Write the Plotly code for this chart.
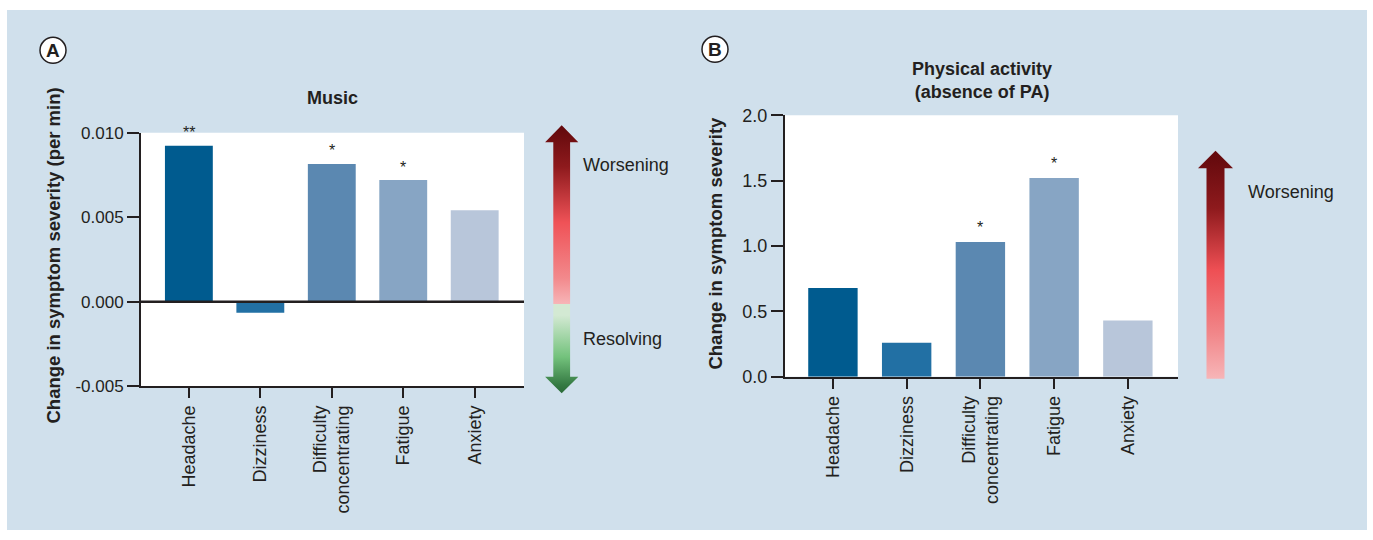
import plotly.graph_objects as go

# ---------------- data ----------------
categories = ["Headache", "Dizziness", "Difficulty<br>concentrating", "Fatigue", "Anxiety"]
music_values = [0.00923, -0.00065, 0.00815, 0.00720, 0.00542]
pa_values = [0.68, 0.26, 1.03, 1.52, 0.43]
music_sig = ["**", "", "*", "*", ""]
pa_sig = ["", "", "*", "*", ""]
bar_colors = ["#005b8f", "#2270a4", "#5b88b1", "#87a5c4", "#b8c6da"]
music_tickvals = [-0.005, 0.0, 0.005, 0.010]
music_ticktext = ["-0.005", "0.000", "0.005", "0.010"]
pa_tickvals = [0.0, 0.5, 1.0, 1.5, 2.0]
pa_ticktext = ["0.0", "0.5", "1.0", "1.5", "2.0"]

# ---------------- layout helpers ----------------
W, H = 1373, 540
INK = "#231f20"
BG = "#d0e0ec"
FONT = "Liberation Sans, Arial, Helvetica, sans-serif"
VS = 560 / 540  # vertical correction for the capture


def fy(y):
    """target picture row -> figure row"""
    return y * VS - 10


def px(x):
    return x / W


def py(y):
    return 1 - fy(y) / H


fig = go.Figure()

fig.add_trace(go.Bar(x=categories, y=music_values, marker_color=bar_colors,
                     marker_line_width=0, width=0.67, xaxis="x", yaxis="y",
                     showlegend=False, hoverinfo="x+y"))
fig.add_trace(go.Bar(x=categories, y=pa_values, marker_color=bar_colors,
                     marker_line_width=0, width=0.67, xaxis="x2", yaxis="y2",
                     showlegend=False, hoverinfo="x+y"))

# ---------------- gradient arrows (pixel overlay axes) ----------------
def arrow_trace(xs, ys, colorscale, start, stop):
    return go.Scatter(x=xs, y=[fy(v) for v in ys], mode="lines", fill="toself",
                      line=dict(width=0), xaxis="x3", yaxis="y3",
                      fillgradient=dict(type="vertical", colorscale=colorscale,
                                        start=fy(start), stop=fy(stop)),
                      showlegend=False, hoverinfo="skip")


# Panel A: red upper half with head
cxA, hwA, swA = 561.7, 16.6, 8.4
fig.add_trace(arrow_trace(
    [cxA, cxA + hwA, cxA + swA, cxA + swA, cxA - swA, cxA - swA, cxA - hwA, cxA],
    [125, 142, 142, 304, 304, 142, 142, 125],
    [[0, "#650a0d"], [0.2, "#8e1a1d"], [0.5, "#ef5257"], [0.8, "#f2898c"], [1, "#f9c8ca"]],
    125, 304))
# Panel A: green lower half with head
fig.add_trace(arrow_trace(
    [cxA - swA, cxA + swA, cxA + swA, cxA + hwA, cxA, cxA - hwA, cxA - swA, cxA - swA],
    [304, 304, 377, 377, 393.5, 377, 377, 304],
    [[0, "#d3e9d3"], [0.45, "#73c27c"], [0.75, "#357a43"], [1, "#1a4f26"]],
    304, 393.5))
# Panel B: red arrow
cxB, hwB, swB = 1215.5, 17.5, 9.0
fig.add_trace(arrow_trace(
    [cxB, cxB + hwB, cxB + swB, cxB + swB, cxB - swB, cxB - swB, cxB - hwB, cxB],
    [150.7, 168, 168, 379, 379, 168, 168, 150.7],
    [[0, "#650a0d"], [0.22, "#8e1a1d"], [0.48, "#ee4f54"], [0.75, "#f1878a"], [1, "#f9c4c6"]],
    150.7, 379))

axis_common = dict(showline=True, linecolor=INK, linewidth=2, ticks="outside",
                   tickcolor=INK, tickwidth=2, showgrid=False, zeroline=False,
                   fixedrange=True)

fig.update_layout(
    width=W, height=H, autosize=False,
    margin=dict(l=0, r=0, t=0, b=0, pad=0),
    paper_bgcolor="white", plot_bgcolor="rgba(0,0,0,0)",
    font=dict(family=FONT, color=INK),
    showlegend=False,
    xaxis=dict(domain=[px(141), px(524)], anchor="y", type="category",
               range=[-0.67, 4.69], ticklen=10, tickangle=-90,
               tickfont=dict(family=FONT, color=INK, size=18), **axis_common),
    yaxis=dict(domain=[py(386.5), py(132.5)], anchor="x",
               range=[-0.005, 0.010], tickvals=music_tickvals,
               ticktext=music_ticktext, ticklen=12,
               tickfont=dict(family=FONT, color=INK, size=17), **axis_common),
    xaxis2=dict(domain=[px(785), px(1178)], anchor="y2", type="category",
                range=[-0.65, 4.68], ticklen=10, tickangle=-90,
                tickfont=dict(family=FONT, color=INK, size=18), **axis_common),
    yaxis2=dict(domain=[py(377), py(115)], anchor="x2",
                range=[0, 2.0], tickvals=pa_tickvals, ticktext=pa_ticktext,
                ticklen=12,
                tickfont=dict(family=FONT, color=INK, size=18), **axis_common),
    xaxis3=dict(domain=[0, 1], anchor="y3", range=[0, W], visible=False,
                fixedrange=True),
    yaxis3=dict(domain=[0, 1], anchor="x3", range=[H, 0], visible=False,
                fixedrange=True),
)

shapes = [
    # light blue panel background
    dict(type="rect", xref="paper", yref="paper", x0=px(7), x1=px(1367),
         y0=0, y1=1, fillcolor=BG, line=dict(width=0), layer="below"),
    # white plot areas
    dict(type="rect", xref="x domain", yref="y domain", x0=0, x1=1, y0=0, y1=1,
         fillcolor="white", line=dict(width=0), layer="below"),
    dict(type="rect", xref="x2 domain", yref="y2 domain", x0=0, x1=1, y0=0, y1=1,
         fillcolor="white", line=dict(width=0), layer="below"),
    # zero line of panel A (on top of bars)
    dict(type="line", xref="x domain", yref="y", x0=0, x1=1, y0=0, y1=0,
         line=dict(color=INK, width=2.5), layer="above"),
    # panel letter circles
    dict(type="circle", xref="x3", yref="y3", x0=40, x1=66, y0=fy(37), y1=fy(63),
         fillcolor="white", line=dict(color=INK, width=1.5), layer="above"),
    dict(type="circle", xref="x3", yref="y3", x0=702, x1=728, y0=fy(36), y1=fy(62),
         fillcolor="white", line=dict(color=INK, width=1.5), layer="above"),
]

annotations = []


def note(text, x, y, size=18, xanchor="center", yanchor="middle", angle=0):
    annotations.append(dict(text=text, x=px(x), y=py(y), xref="paper", yref="paper",
                            showarrow=False, xanchor=xanchor, yanchor=yanchor,
                            textangle=angle,
                            font=dict(family=FONT, size=size, color=INK)))


note("<b>A</b>", 53, 50.5, size=19)
note("<b>B</b>", 715, 49.5, size=19)
note("<b>Music</b>", 332.5, 98)
note("<b>Physical activity<br>(absence of PA)</b>", 981.5, 80)
note("<b>Change in symptom severity (per min)</b>", 53.5, 256, size=18.5, angle=-90)
note("<b>Change in symptom severity</b>", 715.5, 243, size=18.5, angle=-90)
note("Worsening", 581, 165, xanchor="left")
note("Resolving", 581, 339, xanchor="left")
note("Worsening", 1246, 191.5, xanchor="left")

for cat, val, sig in zip(categories, music_values, music_sig):
    if sig:
        annotations.append(dict(text=sig, x=cat, y=val, xref="x", yref="y",
                                showarrow=False, yanchor="middle", yshift=13,
                                font=dict(family=FONT, size=16, color=INK)))
for cat, val, sig in zip(categories, pa_values, pa_sig):
    if sig:
        annotations.append(dict(text=sig, x=cat, y=val, xref="x2", yref="y2",
                                showarrow=False, yanchor="middle", yshift=15,
                                font=dict(family=FONT, size=16, color=INK)))

fig.update_layout(shapes=shapes, annotations=annotations)

page_js = """
var gd = document.getElementById('{plot_id}');
var de = document.documentElement, bd = document.body;
de.style.margin = '0px'; bd.style.margin = '0px';
de.style.padding = '0px'; bd.style.padding = '0px';
de.style.overflow = 'hidden'; bd.style.overflow = 'hidden';
de.style.height = '540px'; bd.style.height = '540px';
de.style.background = '#d0e0ec';
gd.style.position = 'fixed'; gd.style.top = '0px'; gd.style.left = '0px';
"""

fig.write_html(
    "out.html",
    config={"displayModeBar": False},
    post_script=page_js,
)
